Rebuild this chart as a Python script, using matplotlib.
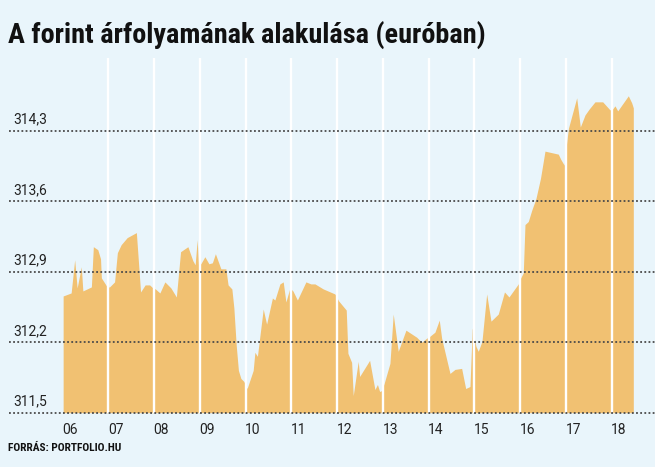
import matplotlib
matplotlib.use("Agg")
import matplotlib.pyplot as plt
import matplotlib.transforms as mtransforms

# forint / euro, intraday, days 06..18 (x = day + fraction of the day)
day06_t = [6.013, 6.188, 6.265, 6.319, 6.41, 6.444, 6.63, 6.673, 6.77, 6.83, 6.848, 6.975]
day06_v = [312.66, 312.69, 313.02, 312.74, 312.95, 312.71, 312.75, 313.15, 313.12, 313.03, 312.84, 312.75]
day07_t = [7.027, 7.137, 7.198, 7.281, 7.412, 7.613, 7.705, 7.805, 7.902, 7.974]
day07_v = [312.75, 312.80, 313.09, 313.17, 313.24, 313.29, 312.70, 312.77, 312.77, 312.74]
day08_t = [8.028, 8.127, 8.236, 8.367, 8.487, 8.579, 8.739, 8.848, 8.898, 8.942, 8.973]
day08_v = [312.73, 312.69, 312.80, 312.74, 312.65, 313.10, 313.15, 313.01, 312.97, 313.22, 312.95]
day09_t = [9.034, 9.11, 9.198, 9.274, 9.34, 9.46, 9.569, 9.617, 9.70, 9.744, 9.795, 9.843, 9.897, 9.963]
day09_v = [312.99, 313.05, 312.98, 312.99, 313.08, 312.93, 312.93, 312.77, 312.73, 312.54, 312.17, 311.92, 311.84, 311.81]
day10_t = [10.033, 10.166, 10.203, 10.258, 10.385, 10.459, 10.586, 10.64, 10.75, 10.822, 10.881, 10.968]
day10_v = [311.74, 311.92, 312.10, 312.06, 312.53, 312.38, 312.64, 312.62, 312.78, 312.80, 312.60, 312.74]
day11_t = [11.034, 11.132, 11.318, 11.427, 11.515, 11.696, 11.952]
day11_v = [312.71, 312.62, 312.80, 312.78, 312.78, 312.73, 312.68]
day12_t = [12.035, 12.199, 12.236, 12.317, 12.352, 12.461, 12.492, 12.71, 12.826, 12.881, 12.929, 12.973]
day12_v = [312.61, 312.52, 312.09, 312.00, 311.67, 312.01, 311.86, 312.02, 311.73, 311.78, 311.71, 311.72]
day13_t = [13.027, 13.154, 13.226, 13.335, 13.504, 13.738, 13.847, 13.956]
day13_v = [311.79, 311.99, 312.48, 312.11, 312.32, 312.25, 312.20, 312.24]
day14_t = [14.028, 14.137, 14.232, 14.284, 14.466, 14.575, 14.721, 14.809, 14.903, 14.953]
day14_v = [312.26, 312.30, 312.42, 312.24, 311.89, 311.93, 311.94, 311.74, 311.76, 312.34]
day15_t = [15.033, 15.084, 15.165, 15.268, 15.362, 15.521, 15.657, 15.755, 15.959]
day15_v = [312.16, 312.11, 312.21, 312.68, 312.41, 312.48, 312.70, 312.65, 312.78]
day16_t = [16.011, 16.068, 16.105, 16.177, 16.251, 16.345, 16.444, 16.542, 16.833, 16.885, 16.962]
day16_v = [312.84, 312.89, 313.37, 313.40, 313.51, 313.63, 313.83, 314.10, 314.07, 314.02, 313.96]
day17_t = [17.03, 17.056, 17.235, 17.314, 17.417, 17.51, 17.635, 17.803, 17.962]
day17_v = [314.24, 314.33, 314.63, 314.34, 314.46, 314.52, 314.59, 314.59, 314.51]
day18_t = [18.022, 18.072, 18.131, 18.363, 18.437, 18.472]
day18_v = [314.52, 314.55, 314.50, 314.65, 314.58, 314.53]

days = [6, 7, 8, 9, 10, 11, 12, 13, 14, 15, 16, 17, 18]
day_labels = ["06", "07", "08", "09", "10", "11", "12", "13", "14", "15", "16", "17", "18"]
y_levels = [311.5, 312.2, 312.9, 313.6, 314.3]
y_labels = ["311,5", "312,2", "312,9", "313,6", "314,3"]

t = (day06_t + day07_t + day08_t + day09_t + day10_t + day11_t + day12_t
     + day13_t + day14_t + day15_t + day16_t + day17_t + day18_t)
v = (day06_v + day07_v + day08_v + day09_v + day10_v + day11_v + day12_v
     + day13_v + day14_v + day15_v + day16_v + day17_v + day18_v)

bg = "#e9f5fb"
fill_col = "#f1c172"
narrow = ["Roboto Condensed", "Roboto", "DejaVu Sans"]

fig = plt.figure(figsize=(6.55, 4.67), dpi=100, facecolor=bg)
ax = fig.add_axes([9 / 655, 0.1099, 646 / 655, 0.7668])
ax.set_facecolor(bg)
for s in ax.spines.values():
    s.set_visible(False)

ax.fill_between(t, v, 311.5, color=fill_col, lw=0, zorder=2)

# white day separators
for d in days[1:]:
    ax.plot([d, d], [311.5, 315.1], color="white", lw=1.7, zorder=3, solid_capstyle="butt")

# dotted horizontal grid
for y in y_levels:
    ax.axhline(y, color="#4a4a4a", lw=1.3, ls=(0, (1, 1.3)), zorder=4)

ax.set_xlim(4.83, 18.946)
ax.set_ylim(311.47, 315.03)

ax.set_yticks([])
ax.set_xticks([d + 0.16 for d in days])
ax.set_xticklabels(day_labels, fontsize=10, color="#222222", family="Roboto")
ax.tick_params(axis="x", length=0, pad=5)

trans = mtransforms.blended_transform_factory(ax.transAxes, ax.transData)
for y, lab in zip(y_levels, y_labels):
    ax.text(0.006, y + 0.073, lab, transform=trans, ha="left", va="baseline",
            fontsize=10, color="#222222", family="Roboto", zorder=5)

fig.text(8 / 655, 1 - 35 / 467, "A forint árfolyamának alakulása (euróban)",
         fontsize=20.3, fontweight="bold", family=narrow, color="#111111",
         ha="left", va="center")
fig.text(8 / 655, 1 - 448 / 467, "FORRÁS: PORTFOLIO.HU", fontsize=8.2,
         fontweight="bold", family=narrow, color="#111111", ha="left", va="center")

fig.savefig("out.png", dpi=100, facecolor=bg)
